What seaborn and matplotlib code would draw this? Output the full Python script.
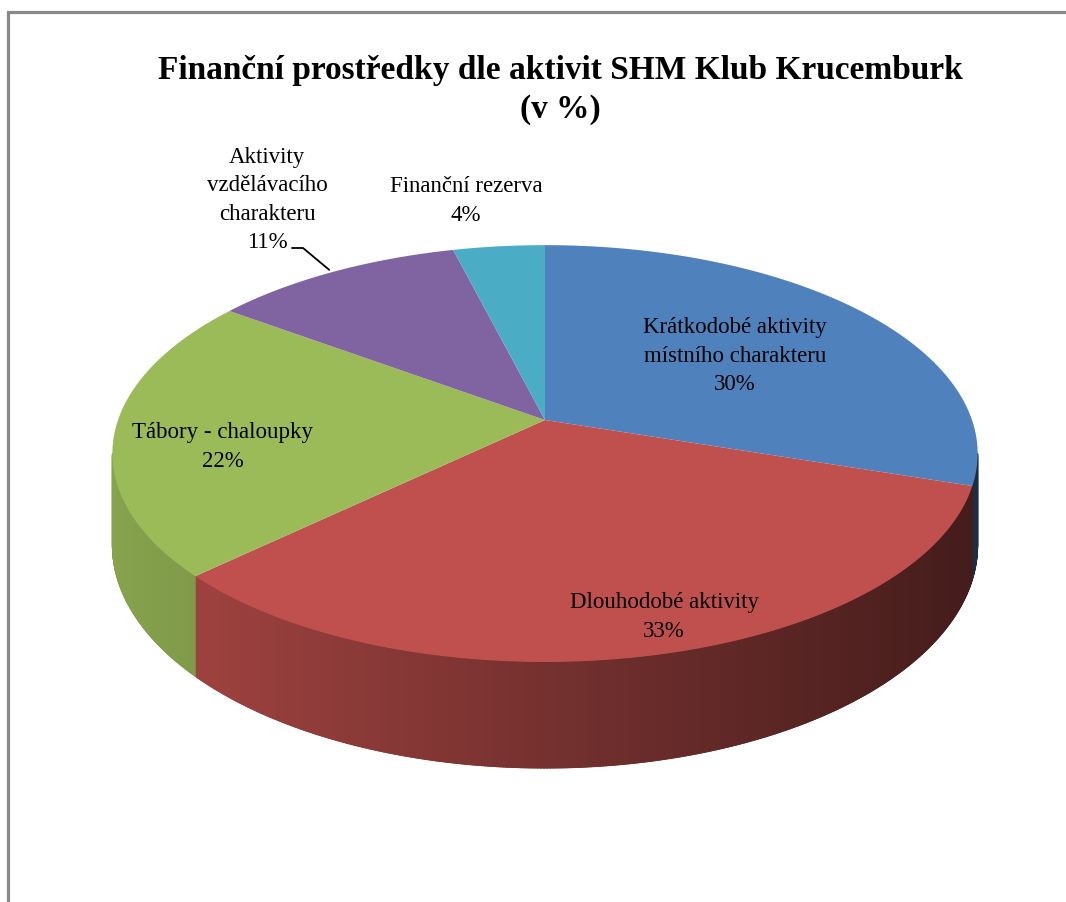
import numpy as np
import matplotlib
matplotlib.use("Agg")
import matplotlib.pyplot as plt
import matplotlib.colors as mcolors
from matplotlib.collections import PolyCollection
from matplotlib.path import Path
from matplotlib.transforms import Transform
import seaborn as sns

# data
categories = [
    "Krátkodobé aktivity\nmístního charakteru",
    "Dlouhodobé aktivity",
    "Tábory - chaloupky",
    "Aktivity\nvzdělávacího\ncharakteru",
    "Finanční rezerva",
]
shares = [30, 33, 22, 11, 4]
colors = ["#4F81BD", "#C0504D", "#9BBB59", "#8064A2", "#4BACC6"]
title = "Finanční prostředky dle aktivit SHM Klub Krucemburk\n(v %)"

# label centres in output pixels (Excel "best fit" placement)
label_pos = [(735, 356), (664, 617), (223, 447), (267, 200), (466, 201)]

# tilted disc seen in perspective, output pixels
CX, CY = 545, 420
RX, RY = 427, 203
K = 0.161
DEPTH = 89


def project(x, y, depth=0.0):
    w = 1 + K * y
    return CX + RX * x / w, CY + (depth - RY * y) / w


class Perspective(Transform):
    input_dims = 2
    output_dims = 2
    is_separable = False
    has_inverse = False

    def transform_non_affine(self, values):
        v = np.asarray(values, dtype=float)
        px, py = project(v[:, 0], v[:, 1])
        return np.column_stack([px, py])

    def transform_path_non_affine(self, path):
        # sample the bezier arcs first, a projective map bends them
        pts = []
        for seg, code in path.iter_bezier(simplify=False):
            if code == Path.MOVETO:
                pts.append(seg.control_points)
            else:
                pts.append(seg(np.linspace(0, 1, 24)[1:]))
        v = np.concatenate(pts)
        return Path(self.transform_non_affine(v), closed=True)


sns.set_style("white")
plt.rcParams["font.family"] = ["Liberation Serif", "DejaVu Serif"]
plt.rcParams["text.color"] = "black"

fig = plt.figure(figsize=(10.66, 9.02), dpi=100)
ax = fig.add_axes([0, 0, 1, 1])

# side wall of the front half
fracs = np.array(shares) / np.sum(shares)
edges = 90 - 360 * np.concatenate([[0], np.cumsum(fracs)])
lim = np.degrees(np.arcsin(K))
front_lo, front_hi = -180 + lim, -lim
polys, fcs = [], []
for i in range(len(shares)):
    a = max(edges[i + 1], front_lo)
    b = min(edges[i], front_hi)
    if a >= b:
        continue
    t = np.radians(np.linspace(a, b, int((b - a) * 3) + 2))
    step = t[1] - t[0]
    base = np.array(mcolors.to_rgb(colors[i]))
    for t0 in t[:-1]:
        # small overlap so the strips don't leave hairlines
        tt = np.array([t0, t0 + step * 1.6, t0 + step * 1.6, t0])
        tt = np.clip(tt, t[0], t[-1])
        px, py = project(np.cos(tt), np.sin(tt), np.array([0, 0, DEPTH, DEPTH]))
        polys.append(np.column_stack([px, py]))
        shade = np.clip(0.81 - 0.0006 * (px.mean() - 215), 0.3, 0.9)
        fcs.append(base * shade)
side = PolyCollection(polys, facecolors=fcs, edgecolors=fcs, linewidths=0.7,
                      zorder=2)
ax.add_collection(side)

# top face
wedges, _ = ax.pie(shares, colors=colors, startangle=90, counterclock=False,
                   wedgeprops=dict(linewidth=0))
persp = Perspective()
for w in wedges:
    w.set_transform(persp + ax.transData)
    w.set_zorder(3)

ax.set_aspect("auto")
ax.set_position([0, 0, 1, 1])
ax.set_xlim(0, 1066)
ax.set_ylim(902, 0)
ax.axis("off")

for cat, val, (lx, ly) in zip(categories, shares, label_pos):
    ax.text(lx, ly, f"{cat}\n{val}%", ha="center", va="center", fontsize=16.5,
            linespacing=1.45, color="black", zorder=5)

# leader line to the purple slice
mid = np.radians((edges[3] + edges[4]) / 2)
ex, ey = project(np.cos(mid), np.sin(mid))
ax.plot([292, 303, ex - 4], [248, 248, ey - 2], color="black", lw=1.3, zorder=5)

ax.text(560, 90, title, ha="center", va="center", fontsize=24, fontweight="bold",
        linespacing=1.35, color="black", zorder=5)

# chart area frame
ax.plot([8, 8, 1066], [902, 12, 12], color="#898989", lw=2.3,
        solid_joinstyle="miter", zorder=6)

fig.savefig("out.png", dpi=100)
